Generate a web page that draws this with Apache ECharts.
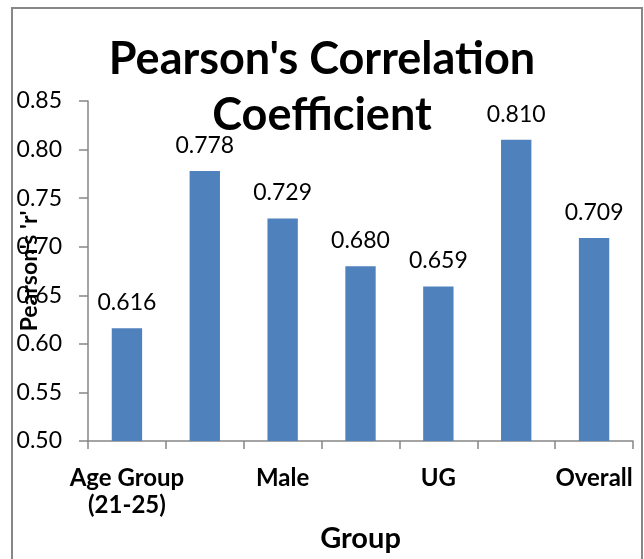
<!DOCTYPE html>
<html>
<head>
<meta charset="utf-8">
<script src="https://cdn.jsdelivr.net/npm/echarts@6/dist/echarts.min.js"></script>
<style>
html,body{margin:0;padding:0;background:#fff;}
#chart{width:644px;height:559px;}
</style>
</head>
<body>
<div id="chart"></div>
<script>
var titleText = "Pearson's Correlation\nCoefficient";
var categories = ["Age Group\n(21-25)", "", "Male", "", "UG", "", "Overall"];
var values = [0.616, 0.778, 0.729, 0.680, 0.659, 0.810, 0.709];
var yMin = 0.50, yMax = 0.85, yStep = 0.05;
var xName = "Group";
var yName = "Pearson's 'r'";

var FONT = "Lato";
var chart = echarts.init(document.getElementById('chart'));
chart.setOption({
  animation: false,
  backgroundColor: '#ffffff',
  graphic: [{
    type: 'rect',
    shape: {x: 12, y: 8, width: 630, height: 600},
    style: {fill: 'none', stroke: '#878787', lineWidth: 2},
    silent: true, z: -1
  }],
  title: {
    text: titleText,
    left: 'center',
    top: 31,
    padding: [0, 0, 0, 12],
    textStyle: {fontFamily: FONT, fontWeight: 'bold', fontSize: 45, lineHeight: 56, color: '#000'}
  },
  grid: {left: 88, right: 11, top: 101, bottom: 118, outerBoundsMode: 'none', containLabel: false},
  xAxis: {
    type: 'category',
    data: categories,
    name: xName,
    nameLocation: 'middle',
    nameGap: 68,
    nameTextStyle: {fontFamily: FONT, fontWeight: 'bold', fontSize: 29, color: '#000'},
    axisLine: {lineStyle: {color: '#868686', width: 1.5}},
    axisTick: {show: true, interval: 0, length: 8, lineStyle: {color: '#868686', width: 1.5}},
    axisLabel: {interval: 0, margin: 24, fontFamily: FONT, fontWeight: 'bold', fontSize: 24, lineHeight: 27, color: '#000'}
  },
  yAxis: {
    type: 'value',
    min: yMin, max: yMax, interval: yStep,
    name: yName,
    nameLocation: 'middle',
    nameRotate: 90,
    nameGap: 47,
    nameMoveOverlap: false,
    nameTextStyle: {fontFamily: FONT, fontWeight: 'bold', fontSize: 23, color: '#000'},
    splitLine: {show: false},
    axisLine: {show: true, lineStyle: {color: '#868686', width: 1.5}},
    axisTick: {show: true, length: 9, lineStyle: {color: '#868686', width: 1.5}},
    axisLabel: {margin: 26, fontFamily: FONT, fontSize: 23, color: '#000',
      formatter: function (v) { return v.toFixed(2); }}
  },
  series: [{
    type: 'bar',
    data: values,
    barCategoryGap: '61%',
    itemStyle: {color: '#4F81BD'},
    label: {
      show: true, position: 'top', distance: 14,
      fontFamily: FONT, fontSize: 23, color: '#000',
      formatter: function (p) { return p.value.toFixed(3); }
    }
  }]
});
</script>
</body>
</html>
